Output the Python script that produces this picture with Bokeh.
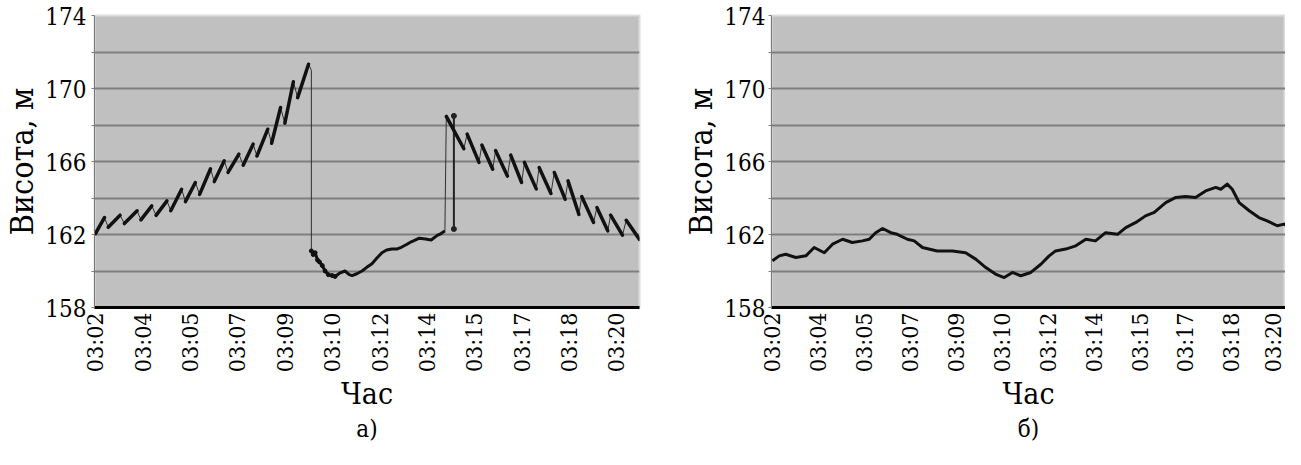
import math
from bokeh.plotting import figure
from bokeh.layouts import row
from bokeh.models import FixedTicker, Range1d, LinearAxis
from bokeh.embed import file_html
from bokeh.resources import INLINE

tick_labels = ["03:02", "03:04", "03:05", "03:07", "03:09", "03:10",
               "03:12", "03:14", "03:15", "03:17", "03:18", "03:20"]
y_ticks = [158, 162, 166, 170, 174]
y_minor = [160, 164, 168, 172]

# panel a) — rising saw-tooth (pairs bottom->top are the dense parts)
a_rise_x = [0.00, 0.19, 0.27, 0.52, 0.61, 0.88, 0.96, 1.19, 1.28, 1.51, 1.59, 1.82, 1.90, 2.11, 2.20,
            2.43, 2.51, 2.72, 2.80, 3.03, 3.12, 3.33, 3.41, 3.64, 3.72, 3.91, 4.00, 4.18, 4.27, 4.50, 4.56]
a_rise_y = [162.05, 162.93, 162.40, 163.06, 162.60, 163.30, 162.80, 163.57, 163.05, 163.84, 163.30,
            164.48, 163.80, 164.85, 164.20, 165.60, 164.90, 166.04, 165.40, 166.40, 165.80, 166.95,
            166.30, 167.77, 167.00, 168.96, 168.10, 170.37, 169.50, 171.33, 171.00]
# panel a) — low part after the drop
a_low_x = [4.56, 4.60, 4.64, 4.69, 4.73, 4.79, 4.85, 4.92, 5.00, 5.06, 5.17, 5.27, 5.36, 5.42, 5.52,
           5.63, 5.73, 5.84, 5.94, 6.05, 6.15, 6.26, 6.36, 6.46, 6.57, 6.67, 6.76, 6.84, 6.97, 7.09,
           7.22, 7.30, 7.38]
a_low_y = [161.10, 160.90, 161.00, 160.60, 160.50, 160.30, 160.00, 159.80, 159.75, 159.70, 159.90,
           160.00, 159.80, 159.75, 159.85, 160.00, 160.20, 160.40, 160.70, 161.00, 161.15, 161.20,
           161.20, 161.30, 161.45, 161.60, 161.70, 161.80, 161.75, 161.70, 161.95, 162.05, 162.20]
# panel a) — isolated spike
a_spike_x = [7.57, 7.57]
a_spike_y = [168.50, 162.30]
# panel a) — falling saw-tooth (pairs top->bottom are the dense parts)
a_fall_x = [7.41, 7.78, 7.85, 8.10, 8.16, 8.39, 8.45, 8.70, 8.77, 9.00, 9.06, 9.31, 9.37, 9.62,
            9.69, 9.92, 9.98, 10.21, 10.27, 10.52, 10.59, 10.82, 10.88, 11.13, 11.21, 11.49]
a_fall_y = [168.47, 166.70, 167.50, 165.95, 166.90, 165.58, 166.60, 165.20, 166.35, 164.85, 165.95,
            164.50, 165.67, 164.25, 165.40, 163.93, 164.94, 163.10, 164.08, 162.66, 163.48, 162.20,
            163.06, 161.96, 162.78, 161.73]

# panel б)
b_x = [0.00, 0.15, 0.29, 0.51, 0.73, 0.91, 1.13, 1.31, 1.53, 1.74, 1.96, 2.11, 2.25, 2.40, 2.58,
       2.72, 2.94, 3.09, 3.27, 3.59, 3.92, 4.21, 4.43, 4.65, 4.86, 5.05, 5.23, 5.41, 5.63, 5.85,
       6.03, 6.17, 6.39, 6.61, 6.83, 7.04, 7.26, 7.52, 7.70, 7.92, 8.13, 8.32, 8.57, 8.79, 9.00,
       9.22, 9.44, 9.66, 9.77, 9.91, 10.02, 10.17, 10.39, 10.60, 10.78, 11.00, 11.15, 11.33]
b_y = [160.56, 160.83, 160.92, 160.74, 160.83, 161.29, 161.00, 161.47, 161.74, 161.56, 161.65,
       161.74, 162.10, 162.33, 162.10, 162.01, 161.74, 161.65, 161.29, 161.10, 161.10, 161.00,
       160.65, 160.19, 159.83, 159.64, 159.92, 159.74, 159.92, 160.37, 160.83, 161.10, 161.20,
       161.38, 161.74, 161.65, 162.10, 162.01, 162.38, 162.66, 163.02, 163.21, 163.75, 164.03,
       164.08, 164.03, 164.39, 164.58, 164.48, 164.76, 164.48, 163.75, 163.30, 162.93, 162.75,
       162.48, 162.57, 162.29]

FONT = "DejaVu Serif Condensed"
H = 449


def panel(x_end, width, left, right, ylab_standoff, caption):
    p = figure(width=width, height=H, x_range=Range1d(-0.02, x_end), y_range=Range1d(158, 174),
               output_backend="svg", toolbar_location=None,
               min_border_left=left, min_border_right=right, min_border_top=15, min_border_bottom=142)
    p.background_fill_color = "#c0c0c0"
    p.border_fill_color = "white"
    p.outline_line_color = "#dcdcdc"
    p.outline_line_width = 2

    xa = p.xaxis[0]
    xa.ticker = FixedTicker(ticks=list(range(len(tick_labels))))
    xa.major_label_overrides = {i: s for i, s in enumerate(tick_labels)}
    xa.major_label_orientation = math.pi / 2
    xa.major_label_text_font = FONT
    xa.major_label_text_font_size = "23px"
    xa.major_label_text_color = "black"
    xa.major_label_standoff = 5
    xa.major_tick_out = 0
    xa.major_tick_in = 0
    xa.minor_tick_out = 0
    xa.minor_tick_in = 0
    xa.major_tick_line_color = None
    xa.minor_tick_line_color = None
    xa.axis_line_color = "black"
    xa.axis_line_width = 3
    xa.axis_label = "Час"
    xa.axis_label_text_font = FONT
    xa.axis_label_text_font_style = "normal"
    xa.axis_label_text_font_size = "30px"
    xa.axis_label_text_color = "black"
    xa.axis_label_standoff = 1

    # second, label-only axis below for the panel caption
    cap = LinearAxis(ticker=FixedTicker(ticks=[]), axis_label=caption,
                     axis_label_text_font=FONT, axis_label_text_font_style="normal",
                     axis_label_text_font_size="24px", axis_label_text_color="black",
                     axis_label_standoff=0, axis_line_color=None,
                     major_tick_out=0, major_tick_in=0, minor_tick_out=0, minor_tick_in=0,
                     major_label_standoff=0,
                     major_tick_line_color=None, minor_tick_line_color=None,
                     major_label_text_font_size="0px")
    p.add_layout(cap, "below")

    ya = p.yaxis[0]
    ya.ticker = FixedTicker(ticks=y_ticks, minor_ticks=y_minor)
    ya.major_label_text_font = FONT
    ya.major_label_text_font_size = "24px"
    ya.major_label_text_color = "black"
    ya.major_label_standoff = ylab_standoff
    ya.major_tick_in = 0
    ya.major_tick_out = 3
    ya.minor_tick_in = 0
    ya.minor_tick_out = 3
    ya.major_tick_line_color = "#808080"
    ya.minor_tick_line_color = "#808080"
    ya.axis_line_color = "#7a7a7a"
    ya.axis_label = "Висота, м"
    ya.axis_label_text_font = FONT
    ya.axis_label_text_font_style = "normal"
    ya.axis_label_text_font_size = "32px"
    ya.axis_label_text_color = "black"
    ya.axis_label_standoff = 1

    p.xgrid.grid_line_color = None
    p.ygrid.grid_line_color = "#7f7f7f"
    p.ygrid.grid_line_width = 2
    p.ygrid.minor_grid_line_color = "#7f7f7f"
    p.ygrid.minor_grid_line_width = 2
    return p


pa = panel(11.49, 649, 89, 10, 5, "а)")
# thin connecting line through all samples
all_x = a_rise_x + a_low_x + a_fall_x
all_y = a_rise_y + a_low_y + a_fall_y
pa.line(all_x, all_y, line_color="#303030", line_width=1)
# dense rising parts of the teeth
pa.segment(x0=a_rise_x[0:30:2], y0=a_rise_y[0:30:2], x1=a_rise_x[1:30:2], y1=a_rise_y[1:30:2],
           line_color="#111111", line_width=3.5, line_cap="round")
pa.line(a_low_x, a_low_y, line_color="#111111", line_width=3, line_join="round")
pa.scatter(a_low_x[:10], a_low_y[:10], size=4, color="#111111")
pa.line(a_spike_x, a_spike_y, line_color="#222222", line_width=2)
pa.scatter(a_spike_x, a_spike_y, size=5, color="#222222")
pa.segment(x0=a_fall_x[0::2], y0=a_fall_y[0::2], x1=a_fall_x[1::2], y1=a_fall_y[1::2],
           line_color="#111111", line_width=3.5, line_cap="round")

pb = panel(11.18, 636, 122, 0, 3, "б)")
pb.line(b_x, b_y, line_color="#111111", line_width=3, line_join="round")

layout = row(pa, pb)
open("out.html", "w").write(file_html(layout, INLINE))
